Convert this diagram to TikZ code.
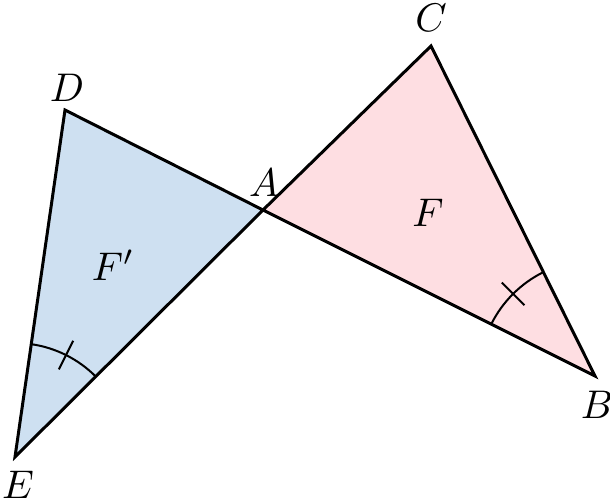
\documentclass[tikz,border=0pt]{standalone}
\usetikzlibrary{calc}
\definecolor{fblue}{RGB}{206,224,241}
\definecolor{fpink}{RGB}{254,222,226}
\begin{document}
\begin{tikzpicture}[x=0.25pt,y=-0.25pt,
  edge/.style={line width=0.75pt,line join=miter},
  anglearc/.style={line width=0.5pt},
  lbl/.style={inner sep=0pt,font=\normalsize}]
\useasboundingbox (0,0) rectangle (610,502);
\coordinate (A) at (263,210);
\coordinate (B) at (595,376);
\coordinate (C) at (431,46);
\coordinate (D) at (65,110);
\coordinate (E) at (15,457);
\fill[fpink] (A) -- (B) -- (C) -- cycle;
\fill[fblue] (A) -- (D) -- (E) -- cycle;
\draw[anglearc] ($(E)+(81.8:28.5pt)$) arc[start angle=81.8,end angle=44.9,radius=28.5pt];
\draw[anglearc] ($(E)+(63.4:24.5pt)$) -- ($(E)+(63.4:32.5pt)$);
\draw[anglearc] ($(B)+(116.4:29pt)$) arc[start angle=116.4,end angle=153.4,radius=29pt];
\draw[anglearc] ($(B)+(134.9:25pt)$) -- ($(B)+(134.9:33pt)$);
\draw[edge] (A) -- (B) -- (C) -- cycle;
\draw[edge] (A) -- (D) -- (E) -- cycle;
\node[lbl] (lC) at (431,18) {$C$};
\node[lbl] (lD) at (67,88) {$D$};
\node[lbl] (lA) at (264,183) {$A$};
\node[lbl] (lB) at (597,405) {$B$};
\node[lbl] (lE) at (18,485) {$E$};
\node[lbl] (lF) at (428,213) {$F$};
\node[lbl] (lF2) at (113,265) {$F'$};
\end{tikzpicture}
\end{document}
